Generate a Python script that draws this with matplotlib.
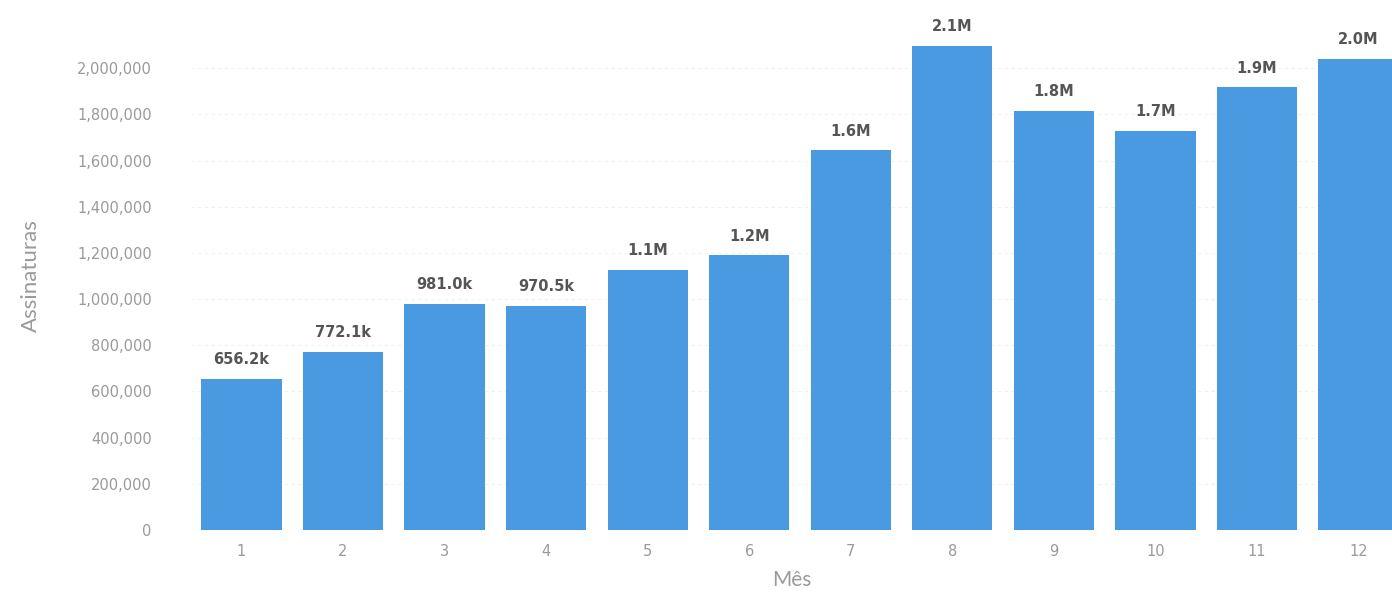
import matplotlib
matplotlib.use("Agg")
import matplotlib.pyplot as plt
from matplotlib.ticker import FuncFormatter

plt.rcParams["font.family"] = ["Lato", "DejaVu Sans"]

BLUE = "#4a9ae2"
GREY = "#9a9a9a"
LABEL = "#555555"

months = [1, 2, 3, 4, 5, 6, 7, 8, 9, 10, 11, 12]
subscriptions = [656200, 772100, 981000, 970500, 1127000, 1190000,
                 1645000, 2098000, 1815000, 1728000, 1918000, 2040000]
y_ticks = [0, 200000, 400000, 600000, 800000, 1000000, 1200000,
           1400000, 1600000, 1800000, 2000000]


def short(v):
    if v >= 1_000_000:
        return f"{v / 1_000_000:.1f}M"
    return f"{v / 1000:.1f}k"


fig = plt.figure(figsize=(13.92, 6.03), dpi=100, facecolor="white")
ax = fig.add_axes([0.137, 0.121, 0.863, 0.8425])

ax.bar(months, subscriptions, width=0.79, color=BLUE, zorder=3)
for m, v in zip(months, subscriptions):
    ax.text(m, v + 50000, short(v), ha="center", va="bottom",
            fontsize=10.5, fontweight="bold", color=LABEL, clip_on=False,
            family="DejaVu Sans")

ax.set_xlim(0.5, 12.33)
ax.set_ylim(0, 2200000)
ax.set_xticks(months)
ax.set_yticks(y_ticks)
ax.yaxis.set_major_formatter(FuncFormatter(lambda v, _: f"{int(v):,}"))
ax.tick_params(axis="both", length=0, colors=GREY, labelsize=10.5)
ax.tick_params(axis="x", pad=10)
ax.tick_params(axis="y", pad=28)
for lbl in ax.get_xticklabels() + ax.get_yticklabels():
    lbl.set_family("DejaVu Sans")
ax.grid(axis="y", color="#f0f0f0", linewidth=0.8, linestyle=(0, (3, 3)), zorder=0)
for s in ax.spines.values():
    s.set_visible(False)

ax.set_ylabel("Assinaturas", color=GREY, fontsize=16, labelpad=26)
ax.set_xlabel("Mês", color=GREY, fontsize=15, labelpad=8)

fig.savefig("out.png", dpi=100, facecolor="white")
